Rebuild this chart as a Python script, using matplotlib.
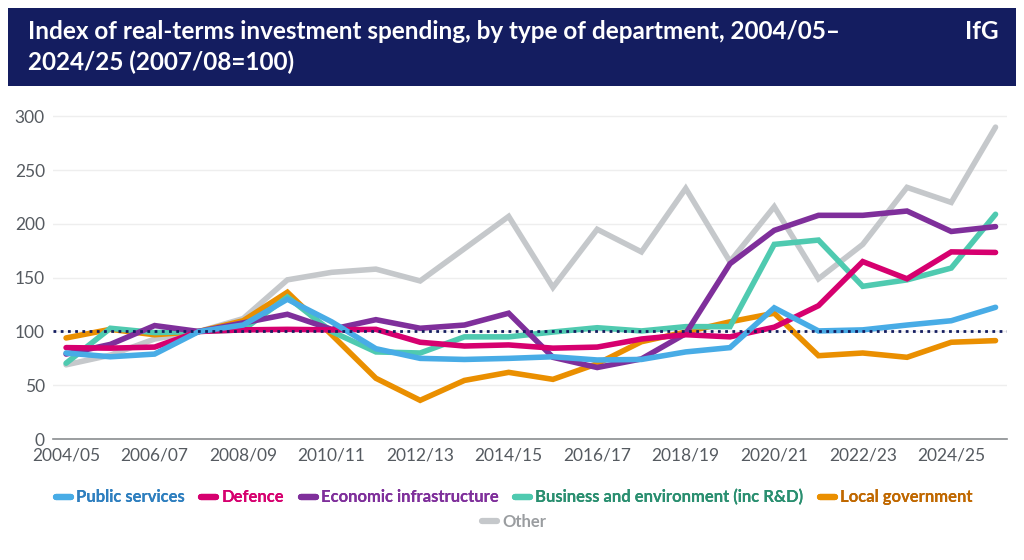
import matplotlib
matplotlib.use('Agg')
import matplotlib.pyplot as plt
from matplotlib.lines import Line2D
from matplotlib.patches import Rectangle

plt.rcParams['font.family'] = ['Lato', 'DejaVu Sans']

years = ['2004/05', '2005/06', '2006/07', '2007/08', '2008/09', '2009/10', '2010/11',
         '2011/12', '2012/13', '2013/14', '2014/15', '2015/16', '2016/17', '2017/18',
         '2018/19', '2019/20', '2020/21', '2021/22', '2022/23', '2023/24', '2024/25',
         '2025/26']

public_services = [80, 76.5, 79, 100, 106, 130, 109, 84, 75, 74, 75, 76.5, 73.5, 74,
                   81, 85, 122, 100.5, 101.5, 106, 110, 122.5]
defence = [85, 84.5, 85.5, 100, 101.5, 102, 101.5, 102, 90, 86.5, 87.5, 84.5, 85.5, 93,
           97, 95, 104, 124, 165, 149, 174, 173.5]
economic_infra = [79, 88, 105.5, 100, 108, 116, 102, 111, 103, 106, 117, 76, 66.5, 74.5,
                  98, 163, 194, 208, 208, 212, 193, 197.5]
business_env = [70.5, 103, 99, 100, 101.5, 132, 100, 81, 80, 95, 95, 99.5, 103.5, 100.5,
                104.5, 104.5, 181, 185, 142, 148, 159, 209]
local_gov = [94, 102, 97, 100, 110, 136.5, 97, 56.5, 36, 54.5, 62, 55.5, 70, 90.5, 99.5,
             109, 117, 77.5, 80, 76, 90, 91.5]
other = [69, 78, 93, 100, 112, 148, 155, 158, 147, 177, 207, 141, 195, 174, 233, 165,
         216, 149, 181, 234, 220, 290]

series = [
    ('Public services', public_services, '#48ace6', '#2e7fbf'),
    ('Defence', defence, '#d6006f', '#d6006f'),
    ('Economic infrastructure', economic_infra, '#7f2f9b', '#7f2f9b'),
    ('Business and environment (inc R&D)', business_env, '#4fcab0', '#2a8f70'),
    ('Local government', local_gov, '#ea8f00', '#c06800'),
    ('Other', other, '#c5c8cb', '#9a9da0'),
]

navy = '#141d60'
tick_grey = '#555a60'

fig = plt.figure(figsize=(10.24, 5.6), dpi=100)
fig.patch.set_facecolor('white')

# header bar
fig.patches.append(Rectangle((0.008, 0.846), 0.984, 0.140, transform=fig.transFigure,
                             facecolor=navy, edgecolor='none', zorder=0))
fig.text(0.027, 0.943, 'Index of real-terms investment spending, by type of department, 2004/05–',
         color='white', fontsize=17.5, fontweight='bold', va='center', ha='left')
fig.text(0.027, 0.889, '2024/25 (2007/08=100)',
         color='white', fontsize=17.5, fontweight='bold', va='center', ha='left')
fig.text(0.975, 0.943, 'IfG', color='white', fontsize=17.5, fontweight='bold',
         va='center', ha='right')

ax = fig.add_axes([0.052, 0.216, 0.931, 0.58])
x = list(range(len(years)))

for name, vals, col, tcol in series[::-1]:
    ax.plot(x, vals, color=col, lw=4, solid_joinstyle='miter', solid_capstyle='round',
            zorder=3)

ax.axhline(100, color=navy, lw=2, ls=(0, (1, 1.6)), zorder=4)

ax.set_xlim(-0.29, 21.25)
ax.set_ylim(0, 302)
ax.set_yticks(range(0, 301, 50))
ax.set_xticks(x[::2])
ax.set_xticklabels(years[::2])
ax.grid(axis='y', color='#eeeeee', lw=1)
ax.set_axisbelow(True)
for s in ['top', 'right', 'left']:
    ax.spines[s].set_visible(False)
ax.spines['bottom'].set_color('#8a8d90')
ax.spines['bottom'].set_linewidth(1.2)
ax.tick_params(axis='both', length=0, labelsize=12.5, colors=tick_grey)
ax.tick_params(axis='x', pad=6)
ax.tick_params(axis='y', pad=6)
for t in ax.get_yticklabels():
    t.set_va('center_baseline')

def make_handles(items):
    hs = [Line2D([0], [0], color=c, lw=4.5, solid_capstyle='round') for _, _, c, _ in items]
    return hs

row1 = series[:5]
leg1 = fig.legend(make_handles(row1), [s[0] for s in row1], loc='center',
                  bbox_to_anchor=(0.502, 0.112), ncol=5, frameon=False, handlelength=0.9,
                  handletextpad=0.3, columnspacing=1.0, prop={'weight': 'bold', 'size': 12})
for t, s in zip(leg1.get_texts(), row1):
    t.set_color(s[3])
row2 = series[5:]
leg2 = fig.legend(make_handles(row2), [s[0] for s in row2], loc='center',
                  bbox_to_anchor=(0.502, 0.068), ncol=1, frameon=False, handlelength=0.9,
                  handletextpad=0.3, prop={'weight': 'bold', 'size': 12})
for t, s in zip(leg2.get_texts(), row2):
    t.set_color(s[3])
fig.add_artist(leg1)

fig.savefig('out.png', dpi=100)
